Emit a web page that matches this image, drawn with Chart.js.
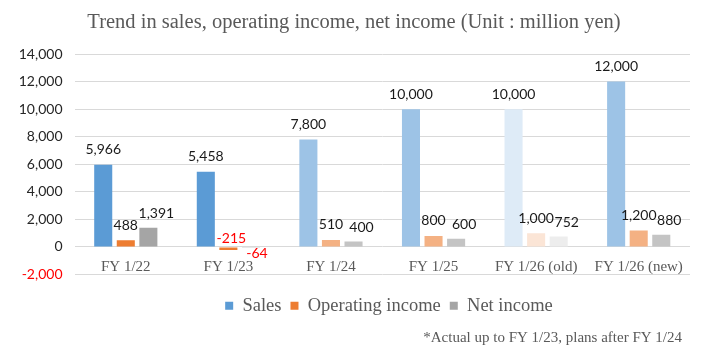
<!DOCTYPE html>
<html><head><meta charset="utf-8">
<script src="https://cdn.jsdelivr.net/npm/chart.js@4.4.1/dist/chart.umd.min.js"></script>
<style>html,body{margin:0;padding:0;background:#fff}#wrap{width:708px;height:352px}</style>
</head><body><div id="wrap"><canvas id="c" width="708" height="352"></canvas></div>
<script>
const categories = ['FY 1/22', 'FY 1/23', 'FY 1/24', 'FY 1/25', 'FY 1/26 (old)', 'FY 1/26 (new)'];
const sales = [5966, 5458, 7800, 10000, 10000, 12000];
const operatingIncome = [488, -215, 510, 800, 1000, 1200];
const netIncome = [1391, -64, 400, 600, 752, 880];
const yTickValues = [-2000, 0, 2000, 4000, 6000, 8000, 10000, 12000, 14000];
const seriesNames = ['Sales', 'Operating income', 'Net income'];
const titleText = 'Trend in sales, operating income, net income (Unit : million yen)';
const footnoteText = '*Actual up to FY 1/23, plans after FY 1/24';

// styles
const salesColors = ['#5B9BD5', '#5B9BD5', '#9DC3E6', '#9DC3E6', '#DEEBF7', '#9DC3E6'];
const opColors    = ['#ED7D31', '#ED7D31', '#F4B183', '#F4B183', '#FBE5D6', '#F4B183'];
const netColors   = ['#A5A5A5', '#A5A5A5', '#C4C4C4', '#C4C4C4', '#EDEDED', '#C4C4C4'];
const legendColors = ['#5B9BD5', '#ED7D31', '#A5A5A5'];
const LABEL_STYLE = [
  {dx: 0, gap: 15, negDx: 0, negDy: 10},
  {dx: 0, gap: 15, negDx: 3, negDy: -8},
  {dx: 8, gap: 14, negDx: 6, negDy: 7}
];
const SERIF = '"Liberation Serif", "Times New Roman", serif';
const SANS = 'Lato, "Open Sans", sans-serif';
const fmt = v => v.toLocaleString('en-US');

const labelPlugin = {
  id: 'valueLabels',
  afterDatasetsDraw(chart) {
    const ctx = chart.ctx;
    const zero = chart.scales.y.getPixelForValue(0);
    ctx.save();
    ctx.font = '14px ' + SANS;
    ctx.textAlign = 'center';
    ctx.textBaseline = 'middle';
    chart.data.datasets.forEach((ds, di) => {
      const meta = chart.getDatasetMeta(di);
      const st = LABEL_STYLE[di];
      meta.data.forEach((el, i) => {
        const v = ds.data[i];
        const neg = v < 0;
        const x = el.x + (neg ? st.negDx : st.dx);
        const y = neg ? zero + st.negDy : el.y - st.gap;
        ctx.fillStyle = neg ? '#FF0000' : '#1a1a1a';
        ctx.fillText(fmt(v), x, y);
      });
    });
    ctx.restore();
  }
};

const textPlugin = {
  id: 'extraText',
  afterDraw(chart) {
    const ctx = chart.ctx;
    ctx.save();
    ctx.fillStyle = '#595959';
    ctx.textBaseline = 'middle';
    ctx.font = '20.5px ' + SERIF;
    ctx.textAlign = 'center';
    ctx.fillText(titleText, 354, 23);
    ctx.font = '15px ' + SERIF;
    ctx.textAlign = 'right';
    ctx.fillText(footnoteText, 682, 338);
    ctx.restore();
  }
};

const legendShift = {
  id: 'legendShift',
  afterLayout(chart) {
    const l = chart.legend;
    if (!l) return;
    l.left += 44; l.right += 44;
    l.top += 13; l.bottom += 13;
  }
};

new Chart(document.getElementById('c'), {
  type: 'bar',
  data: {
    labels: categories,
    datasets: [
      {label: seriesNames[0], data: sales, backgroundColor: salesColors},
      {label: seriesNames[1], data: operatingIncome, backgroundColor: opColors},
      {label: seriesNames[2], data: netIncome, backgroundColor: netColors}
    ]
  },
  options: {
    responsive: false,
    animation: false,
    devicePixelRatio: 1,
    categoryPercentage: 0.66,
    barPercentage: 0.8,
    layout: {padding: {top: 54, right: 18, bottom: 40, left: 0}},
    scales: {
      x: {
        position: {y: 0},
        grid: {display: false},
        border: {display: false},
        ticks: {font: {family: SERIF, size: 15}, color: '#595959', padding: 3}
      },
      y: {
        min: -2000, max: 14000,
        afterBuildTicks: s => { s.ticks = yTickValues.map(v => ({value: v})); },
        afterFit: s => { s.width = 74.5; },
        grid: {color: '#D9D9D9', lineWidth: 1, drawTicks: false},
        border: {display: false},
        ticks: {
          font: {family: SANS, size: 14},
          color: c => c.tick.value < 0 ? '#FF0000' : '#262626',
          padding: 12,
          callback: v => fmt(v)
        }
      }
    },
    plugins: {
      title: {display: false},
      tooltip: {enabled: false},
      legend: {
        position: 'bottom',
        labels: {
          boxWidth: 8, boxHeight: 8, padding: 9,
          font: {family: SERIF, size: 18.5},
          color: '#595959',
          generateLabels: chart => chart.data.datasets.map((d, i) => ({
            text: d.label, fillStyle: legendColors[i], strokeStyle: legendColors[i],
            lineWidth: 0, datasetIndex: i, hidden: false, fontColor: '#595959'
          }))
        }
      }
    }
  },
  plugins: [labelPlugin, textPlugin, legendShift]
});
</script></body></html>
